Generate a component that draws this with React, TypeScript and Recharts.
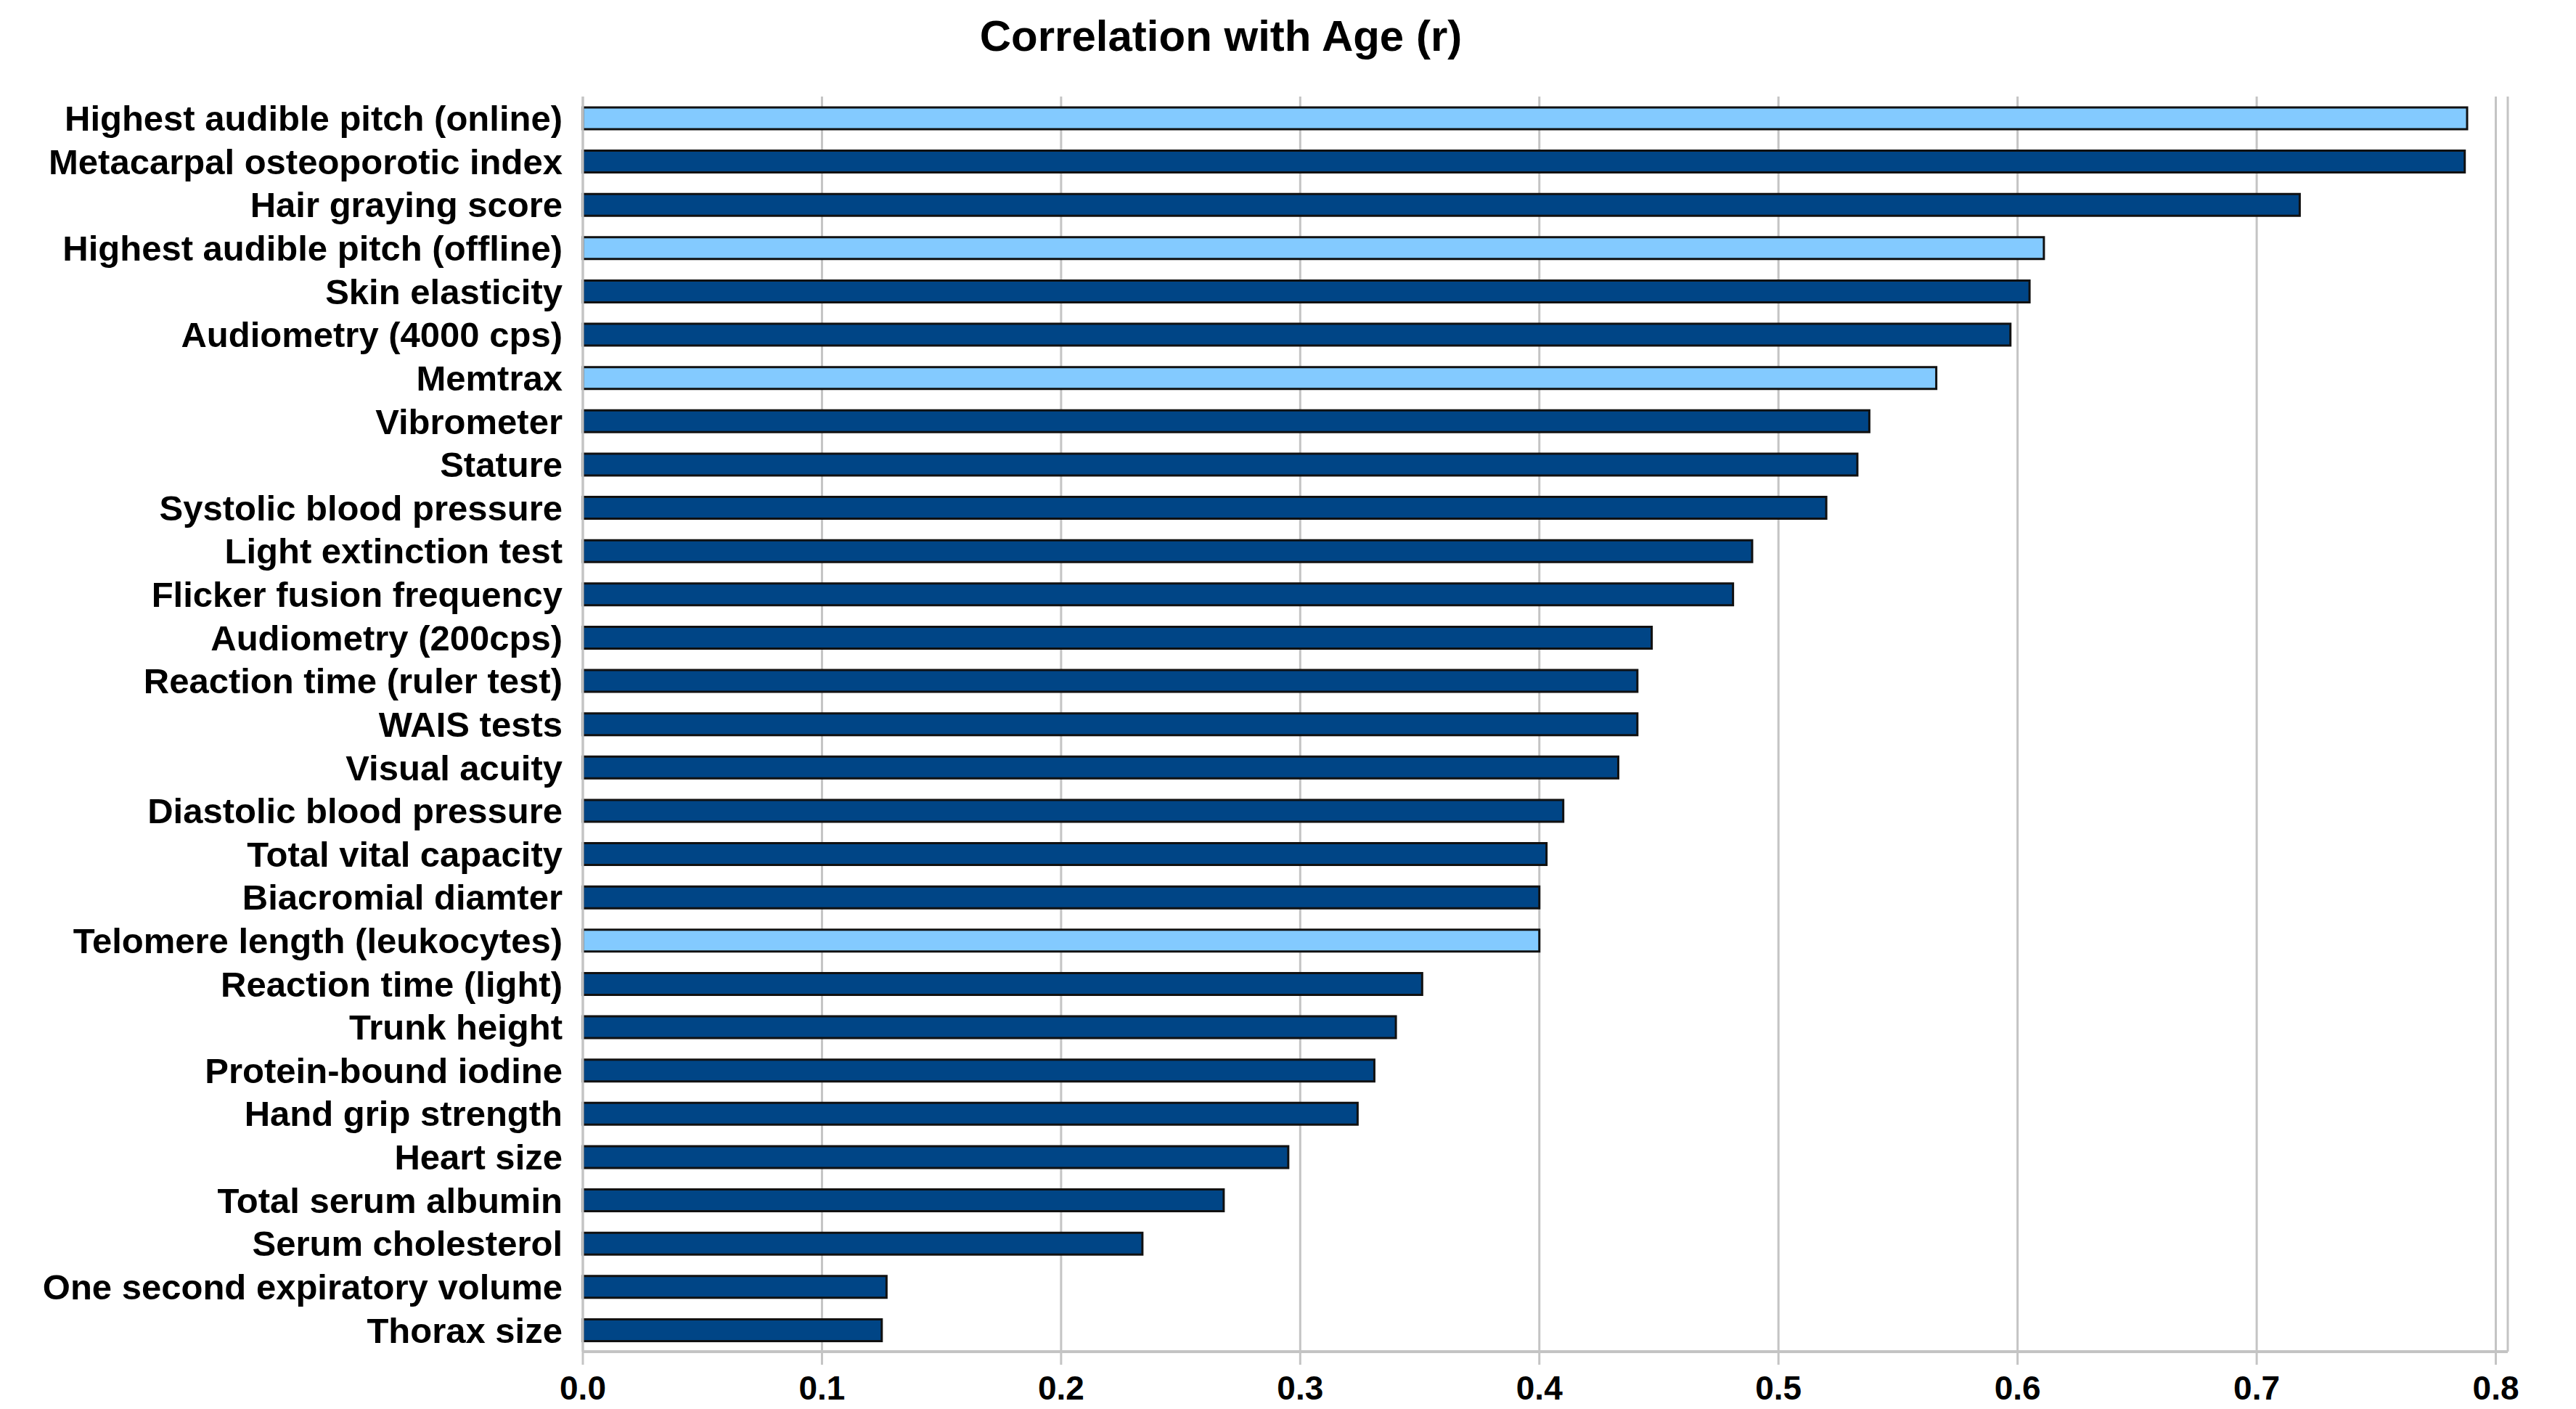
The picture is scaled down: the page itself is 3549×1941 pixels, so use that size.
import React from "react";
import { BarChart, Bar, XAxis, YAxis, CartesianGrid, Cell } from "recharts";

const categories = [
  "Highest audible pitch (online)",
  "Metacarpal osteoporotic index",
  "Hair graying score",
  "Highest audible pitch (offline)",
  "Skin elasticity",
  "Audiometry (4000 cps)",
  "Memtrax",
  "Vibrometer",
  "Stature",
  "Systolic blood pressure",
  "Light extinction test",
  "Flicker fusion frequency",
  "Audiometry (200cps)",
  "Reaction time (ruler test)",
  "WAIS tests",
  "Visual acuity",
  "Diastolic blood pressure",
  "Total vital capacity",
  "Biacromial diamter",
  "Telomere length (leukocytes)",
  "Reaction time (light)",
  "Trunk height",
  "Protein-bound iodine",
  "Hand grip strength",
  "Heart size",
  "Total serum albumin",
  "Serum cholesterol",
  "One second expiratory volume",
  "Thorax size",
];

const correlations = [
  0.788, 0.787, 0.718, 0.611, 0.605, 0.597, 0.566, 0.538, 0.533, 0.52,
  0.489, 0.481, 0.447, 0.441, 0.441, 0.433, 0.41, 0.403, 0.4, 0.4,
  0.351, 0.34, 0.331, 0.324, 0.295, 0.268, 0.234, 0.127, 0.125,
];

const lightCategories = [
  "Highest audible pitch (online)",
  "Highest audible pitch (offline)",
  "Memtrax",
  "Telomere length (leukocytes)",
];

const xTicks = [0, 0.1, 0.2, 0.3, 0.4, 0.5, 0.6, 0.7, 0.8];
const boundaryTicks = [
  0, 1, 2, 3, 4, 5, 6, 7, 8, 9, 10, 11, 12, 13, 14, 15, 16, 17, 18, 19, 20,
  21, 22, 23, 24, 25, 26, 27, 28, 29,
];

const title = "Correlation with Age (r)";

const DARK = "#004586";
const LIGHT = "#83caff";
const GRID = "#c4c4c4";
const FONT = "'Liberation Sans', Arial, sans-serif";

const data = categories.map((name, i) => ({ name, value: correlations[i] }));

export default function App() {
  return (
    <div
      style={{
        position: "absolute",
        left: 0,
        top: 0,
        width: 3549,
        height: 1941,
        background: "#fff",
        overflow: "hidden",
      }}
    >
      <BarChart
        width={3549}
        height={1941}
        data={data}
        layout="vertical"
        margin={{ top: 133, right: 94, bottom: 0, left: 0 }}
      >
        <CartesianGrid
          horizontal={false}
          stroke={GRID}
          strokeWidth={3}
          xAxisId="bottom"
          yAxisId="cat"
        />
        <XAxis
          xAxisId="bottom"
          type="number"
          orientation="bottom"
          domain={[0, 0.805]}
          ticks={xTicks}
          tickFormatter={(v: number) => v.toFixed(1)}
          height={79}
          axisLine={{ stroke: GRID, strokeWidth: 4 }}
          tickLine={{ stroke: GRID, strokeWidth: 3 }}
          tickSize={18}
          tickMargin={15}
          tick={{ fill: "#000", fontSize: 46, fontWeight: 700, fontFamily: FONT }}
          interval={0}
        />
        <XAxis
          xAxisId="top"
          type="number"
          orientation="top"
          domain={[0, 0.805]}
          height={0}
          tick={false}
          tickLine={false}
          axisLine={{ stroke: GRID, strokeWidth: 4 }}
        />
        <YAxis
          yAxisId="bounds"
          type="number"
          orientation="left"
          domain={[0, 29]}
          ticks={boundaryTicks}
          width={0}
          tick={false}
          tickLine={{ stroke: GRID, strokeWidth: 3 }}
          tickSize={16}
          axisLine={false}
          interval={0}
        />
        <YAxis
          yAxisId="cat"
          type="category"
          dataKey="name"
          orientation="left"
          width={803}
          interval={0}
          tickLine={false}
          tickSize={16}
          tickMargin={12}
          axisLine={{ stroke: GRID, strokeWidth: 3 }}
          tick={{ fill: "#000", fontSize: 49, fontWeight: 700, fontFamily: FONT }}
        />
        <Bar
          dataKey="value"
          xAxisId="bottom"
          yAxisId="cat"
          barSize={30}
          stroke="#111"
          strokeWidth={3}
          isAnimationActive={false}
        >
          {data.map((d) => (
            <Cell key={d.name} fill={lightCategories.includes(d.name) ? LIGHT : DARK} />
          ))}
        </Bar>
      </BarChart>
      <svg
        width={3549}
        height={1941}
        style={{ position: "absolute", left: 0, top: 0, pointerEvents: "none" }}
      >
        <text
          x={1682}
          y={70}
          textAnchor="middle"
          fontSize={60}
          fontWeight={700}
          fontFamily={FONT}
          fill="#000"
        >
          {title}
        </text>
      </svg>
    </div>
  );
}
